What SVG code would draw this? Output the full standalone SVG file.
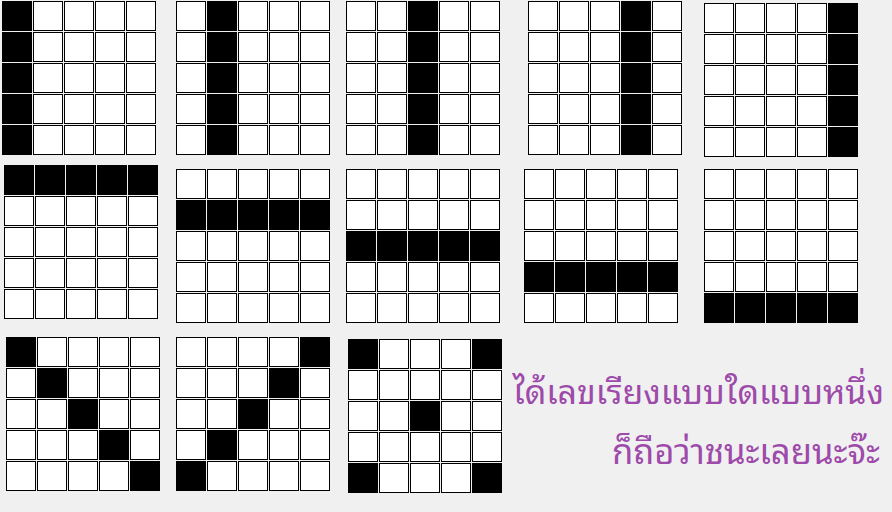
<svg xmlns="http://www.w3.org/2000/svg" xmlns:xlink="http://www.w3.org/1999/xlink" width="892" height="512" viewBox="0 0 892 512">
<style>
.w{fill:#fff;stroke:#000;stroke-width:1}
.b{fill:#000}
.t{font-family:"Noto Sans Thai Looped","Noto Sans Thai","Noto Sans","Liberation Sans",sans-serif;font-size:33.8px;fill:#9d4aaa}
.t2{font-size:34.6px}
</style>
<defs>
<g id="grid">
<rect class="w" x="0.5" y="0.5" width="29" height="29"/><rect class="w" x="31.5" y="0.5" width="29" height="29"/><rect class="w" x="62.5" y="0.5" width="29" height="29"/><rect class="w" x="93.5" y="0.5" width="29" height="29"/><rect class="w" x="124.5" y="0.5" width="29" height="29"/>
<rect class="w" x="0.5" y="31.5" width="29" height="29"/><rect class="w" x="31.5" y="31.5" width="29" height="29"/><rect class="w" x="62.5" y="31.5" width="29" height="29"/><rect class="w" x="93.5" y="31.5" width="29" height="29"/><rect class="w" x="124.5" y="31.5" width="29" height="29"/>
<rect class="w" x="0.5" y="62.5" width="29" height="29"/><rect class="w" x="31.5" y="62.5" width="29" height="29"/><rect class="w" x="62.5" y="62.5" width="29" height="29"/><rect class="w" x="93.5" y="62.5" width="29" height="29"/><rect class="w" x="124.5" y="62.5" width="29" height="29"/>
<rect class="w" x="0.5" y="93.5" width="29" height="29"/><rect class="w" x="31.5" y="93.5" width="29" height="29"/><rect class="w" x="62.5" y="93.5" width="29" height="29"/><rect class="w" x="93.5" y="93.5" width="29" height="29"/><rect class="w" x="124.5" y="93.5" width="29" height="29"/>
<rect class="w" x="0.5" y="124.5" width="29" height="29"/><rect class="w" x="31.5" y="124.5" width="29" height="29"/><rect class="w" x="62.5" y="124.5" width="29" height="29"/><rect class="w" x="93.5" y="124.5" width="29" height="29"/><rect class="w" x="124.5" y="124.5" width="29" height="29"/>
</g>
<rect id="b" class="b" width="30" height="30"/>
</defs>
<rect width="892" height="512" fill="#f0f0f0"/>

<g id="grid-1" transform="translate(2,1)"><use href="#grid"/><use href="#b" x="0" y="0"/><use href="#b" x="0" y="31"/><use href="#b" x="0" y="62"/><use href="#b" x="0" y="93"/><use href="#b" x="0" y="124"/></g>
<g id="grid-2" transform="translate(176,1)"><use href="#grid"/><use href="#b" x="31" y="0"/><use href="#b" x="31" y="31"/><use href="#b" x="31" y="62"/><use href="#b" x="31" y="93"/><use href="#b" x="31" y="124"/></g>
<g id="grid-3" transform="translate(346,1)"><use href="#grid"/><use href="#b" x="62" y="0"/><use href="#b" x="62" y="31"/><use href="#b" x="62" y="62"/><use href="#b" x="62" y="93"/><use href="#b" x="62" y="124"/></g>
<g id="grid-4" transform="translate(528,1)"><use href="#grid"/><use href="#b" x="93" y="0"/><use href="#b" x="93" y="31"/><use href="#b" x="93" y="62"/><use href="#b" x="93" y="93"/><use href="#b" x="93" y="124"/></g>
<g id="grid-5" transform="translate(704,3)"><use href="#grid"/><use href="#b" x="124" y="0"/><use href="#b" x="124" y="31"/><use href="#b" x="124" y="62"/><use href="#b" x="124" y="93"/><use href="#b" x="124" y="124"/></g>

<g id="grid-6" transform="translate(4,165)"><use href="#grid"/><use href="#b" x="0" y="0"/><use href="#b" x="31" y="0"/><use href="#b" x="62" y="0"/><use href="#b" x="93" y="0"/><use href="#b" x="124" y="0"/></g>
<g id="grid-7" transform="translate(176,169)"><use href="#grid"/><use href="#b" x="0" y="31"/><use href="#b" x="31" y="31"/><use href="#b" x="62" y="31"/><use href="#b" x="93" y="31"/><use href="#b" x="124" y="31"/></g>
<g id="grid-8" transform="translate(346,169)"><use href="#grid"/><use href="#b" x="0" y="62"/><use href="#b" x="31" y="62"/><use href="#b" x="62" y="62"/><use href="#b" x="93" y="62"/><use href="#b" x="124" y="62"/></g>
<g id="grid-9" transform="translate(524,169)"><use href="#grid"/><use href="#b" x="0" y="93"/><use href="#b" x="31" y="93"/><use href="#b" x="62" y="93"/><use href="#b" x="93" y="93"/><use href="#b" x="124" y="93"/></g>
<g id="grid-10" transform="translate(704,169)"><use href="#grid"/><use href="#b" x="0" y="124"/><use href="#b" x="31" y="124"/><use href="#b" x="62" y="124"/><use href="#b" x="93" y="124"/><use href="#b" x="124" y="124"/></g>

<g id="grid-11" transform="translate(6,337)"><use href="#grid"/><use href="#b" x="0" y="0"/><use href="#b" x="31" y="31"/><use href="#b" x="62" y="62"/><use href="#b" x="93" y="93"/><use href="#b" x="124" y="124"/></g>
<g id="grid-12" transform="translate(176,337)"><use href="#grid"/><use href="#b" x="124" y="0"/><use href="#b" x="93" y="31"/><use href="#b" x="62" y="62"/><use href="#b" x="31" y="93"/><use href="#b" x="0" y="124"/></g>
<g id="grid-13" transform="translate(348,339)"><use href="#grid"/><use href="#b" x="0" y="0"/><use href="#b" x="124" y="0"/><use href="#b" x="62" y="62"/><use href="#b" x="0" y="124"/><use href="#b" x="124" y="124"/></g>

<g id="caption">
<text class="t" x="884" y="404" text-anchor="end">ได้เลขเรียงแบบใดแบบหนึ่ง</text>
<text class="t t2" x="880" y="464" text-anchor="end">ก็ถือว่าชนะเลยนะจ๊ะ</text>
</g>
</svg>
